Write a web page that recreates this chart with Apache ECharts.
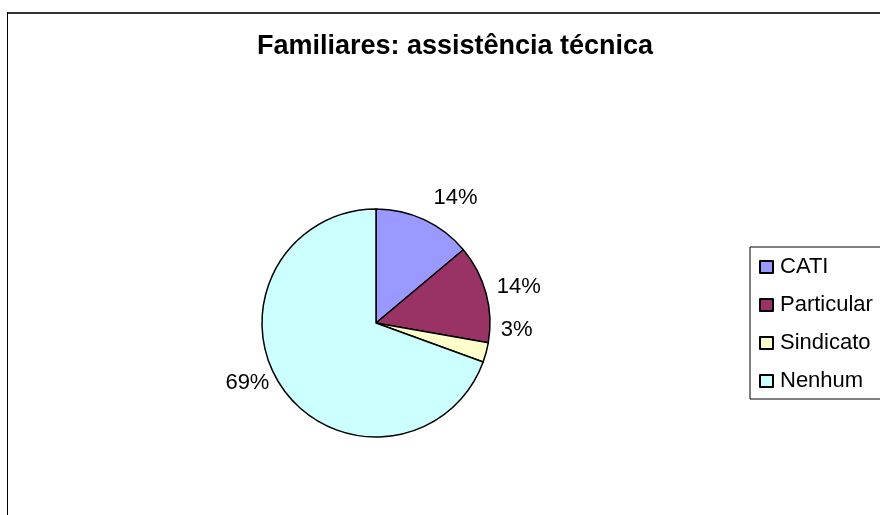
<!DOCTYPE html>
<html>
<head>
<meta charset="utf-8">
<script src="https://cdn.jsdelivr.net/npm/echarts@6/dist/echarts.min.js"></script>
<style>
html,body{margin:0;padding:0;background:#fff;}
#chart{width:880px;height:515px;}
</style>
</head>
<body>
<div id="chart"></div>
<script>
var titleText = 'Familiares: assistência técnica';
var categories = ['CATI', 'Particular', 'Sindicato', 'Nenhum'];
var values = [5, 5, 1, 25];
var colors = ['#9999FF', '#993366', '#FFFFCC', '#CCFFFF'];

var labelShift = [[0, -13], [-4, -4], [0, -25], [0, -11]];

var data = categories.map(function (c, i) {
  return { name: c, value: values[i], itemStyle: { color: colors[i] } };
});

var chart = echarts.init(document.getElementById('chart'), null, { renderer: 'canvas' });
chart.setOption({
  backgroundColor: '#ffffff',
  animation: false,
  title: {
    text: titleText,
    left: 455,
    top: 33,
    padding: 0,
    textAlign: 'center',
    textStyle: {
      fontFamily: 'Liberation Sans, Arial, sans-serif',
      fontWeight: 'bold',
      fontSize: 27,
      color: '#000'
    }
  },
  legend: {
    orient: 'vertical',
    left: 750,
    top: 247,
    padding: [9, 30, 7, 9],
    itemGap: 16,
    itemWidth: 13,
    itemHeight: 12,
    icon: 'rect',
    borderColor: '#000',
    borderWidth: 1,
    backgroundColor: '#fff',
    textStyle: {
      fontFamily: 'Liberation Sans, Arial, sans-serif',
      fontSize: 22,
      color: '#000',
      padding: [0, 0, 0, 2]
    },
    data: categories
  },
  graphic: [
    { type: 'line', shape: { x1: 7, y1: 13, x2: 880, y2: 13 }, style: { stroke: '#333', lineWidth: 2 } },
    { type: 'line', shape: { x1: 7.5, y1: 12, x2: 7.5, y2: 515 }, style: { stroke: '#000', lineWidth: 1 } }
  ],
  series: [{
    type: 'pie',
    center: [376, 323],
    radius: 114,
    startAngle: 90,
    clockwise: true,
    avoidLabelOverlap: false,
    itemStyle: { borderColor: '#000', borderWidth: 1.5 },
    label: {
      show: true,
      position: 'outside',
      fontFamily: 'Liberation Sans, Arial, sans-serif',
      fontSize: 22,
      color: '#000',
      formatter: function (p) { return Math.round(p.percent) + '%'; }
    },
    labelLine: { show: false, length: 10, length2: 0 },
    labelLayout: function (p) {
      var s = labelShift[p.dataIndex];
      return { dx: s[0], dy: s[1] };
    },
    emphasis: { disabled: true },
    data: data
  }]
});
</script>
</body>
</html>
